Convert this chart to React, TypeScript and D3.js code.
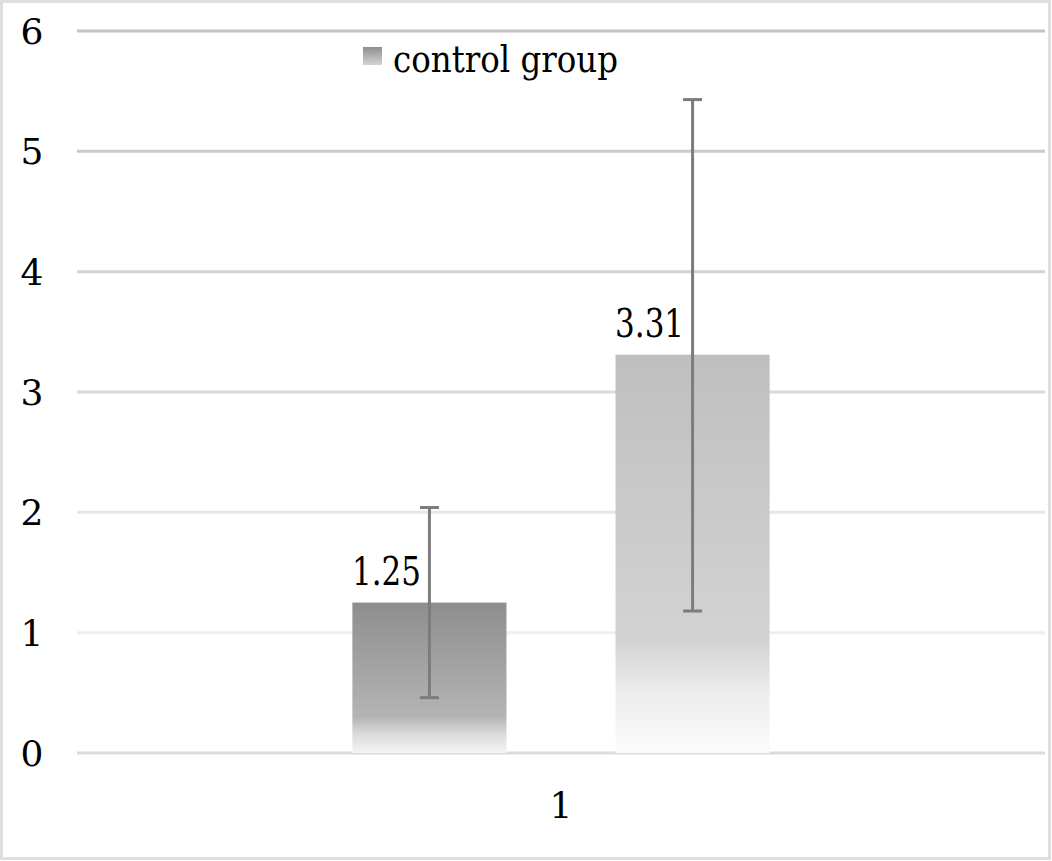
import React from "react";
import * as d3 from "d3";

const categories = ["1"];
const seriesNames = ["control group", "series 2"];
const values = [1.25, 3.31];
const errLow = [0.46, 1.18];
const errHigh = [2.04, 5.43];
const yTicks = [0, 1, 2, 3, 4, 5, 6];
const gridColors = ["#dcdcdc", "#efefef", "#e6e6e6", "#dadada", "#d2d2d2", "#cacaca", "#c2c2c2"];

const W = 1052;
const H = 861;
const FONT = "'DejaVu Serif', serif";

export default function App() {
  const x0 = d3.scaleBand<string>().domain(categories).range([77, 1045]).paddingInner(0).paddingOuter(0.66);
  const x1 = d3.scaleBand<string>().domain(seriesNames).range([0, x0.bandwidth()]).paddingInner(0.4144).paddingOuter(0);
  const y = d3.scaleLinear().domain([0, 6]).range([753, 31]);

  const gradIds = ["g0", "g1"];
  const ts = { fontFamily: FONT };
  return (
    <svg width={W} height={H} style={{ position: "absolute", left: 0, top: 0, background: "#fff" }}>
      <defs>
        <linearGradient id="g0" x1="0" y1="0" x2="0" y2="1">
          <stop offset="0" stopColor="#8e8e8e" />
          <stop offset="0.76" stopColor="#b4b4b4" />
          <stop offset="0.88" stopColor="#dcdcdc" />
          <stop offset="1" stopColor="#f4f4f4" />
        </linearGradient>
        <linearGradient id="g1" x1="0" y1="0" x2="0" y2="1">
          <stop offset="0" stopColor="#bfbfbf" />
          <stop offset="0.72" stopColor="#d3d3d3" />
          <stop offset="0.85" stopColor="#ededed" />
          <stop offset="1" stopColor="#fbfbfb" />
        </linearGradient>
        <linearGradient id="gl" x1="0" y1="0" x2="0" y2="1">
          <stop offset="0" stopColor="#8e8e8e" />
          <stop offset="1" stopColor="#d4d4d4" />
        </linearGradient>
      </defs>
      <rect x={1.5} y={1.5} width={W - 4} height={H - 4} fill="#fff" stroke="#dedede" strokeWidth={3} />
      {yTicks.map((t, i) => (
        <g key={t}>
          <line x1={77} x2={1045} y1={y(t)} y2={y(t)} stroke={gridColors[i]} strokeWidth={3} />
          <text x={32} y={y(t)} dy="0.36em" textAnchor="middle" style={ts} fontSize={36} fill="#000">
            {t}
          </text>
        </g>
      ))}
      {categories.map((c) =>
        seriesNames.map((s, i) => {
          const bx = (x0(c) ?? 0) + (x1(s) ?? 0);
          const bw = x1.bandwidth();
          const cx = bx + bw / 2;
          return (
            <g key={c + s}>
              <rect x={bx} y={y(values[i])} width={bw} height={y(0) - y(values[i])} fill={`url(#${gradIds[i]})`} />
              <text x={cx - 43} y={y(values[i]) - 18} textAnchor="middle" style={ts} fontSize={39} textLength={69} lengthAdjust="spacingAndGlyphs" fill="#000">
                {values[i].toFixed(2)}
              </text>
              <line x1={cx} x2={cx} y1={y(errLow[i])} y2={y(errHigh[i])} stroke="#7c7c7c" strokeWidth={3} />
              <line x1={cx - 9.5} x2={cx + 9.5} y1={y(errLow[i])} y2={y(errLow[i])} stroke="#7c7c7c" strokeWidth={3} />
              <line x1={cx - 9.5} x2={cx + 9.5} y1={y(errHigh[i])} y2={y(errHigh[i])} stroke="#7c7c7c" strokeWidth={3} />
            </g>
          );
        })
      )}
      {categories.map((c) => (
        <text key={c} x={(x0(c) ?? 0) + x0.bandwidth() / 2} y={805} dy="0.36em" textAnchor="middle" style={ts} fontSize={36} fill="#000">
          {c}
        </text>
      ))}
      <rect x={363} y={47} width={19} height={18} fill="url(#gl)" />
      <text x={393} y={72} style={ts} fontSize={37} textLength={225} lengthAdjust="spacingAndGlyphs" fill="#000">
        {seriesNames[0]}
      </text>
    </svg>
  );
}
